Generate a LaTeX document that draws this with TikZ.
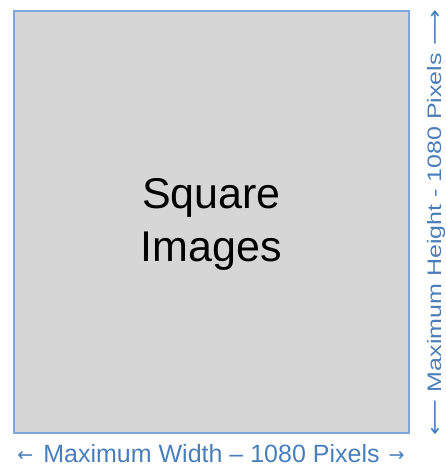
\documentclass[tikz,border=0pt]{standalone}
\usepackage{fontspec}
\setmainfont{Liberation Sans}
\newfontfamily\arrowfont{DejaVu Sans}
\definecolor{labelblue}{HTML}{4A7EBB}
\definecolor{frameblue}{HTML}{7FA7DA}
\definecolor{imagegray}{HTML}{D6D6D6}
\begin{document}
\begin{tikzpicture}[x=1pt, y=-1pt,
    dim/.style={text=labelblue, font=\fontsize{25}{30}\selectfont, inner sep=0pt}]
  \useasboundingbox (0,0) rectangle (445,466);
  % Square image area
  \filldraw[fill=imagegray, draw=frameblue, line width=1.2pt] (14,11) rectangle (409,433);
  \node[align=center, font=\fontsize{43}{53}\selectfont] (title) at (211.5,224) {Square\\Images};
  % Width label along the bottom
  \node[dim, anchor=base] (width) at (211,462)
    {{\arrowfont\fontsize{19}{19}\selectfont\raisebox{1pt}{←}}\hspace{10pt}Maximum Width – 1080 Pixels\hspace{9pt}{\arrowfont\fontsize{19}{19}\selectfont\raisebox{1pt}{→}}};
  % Height label up the right side
  \node[dim, anchor=base, rotate=90, yscale=0.78] (height) at (441,222.5)
    {{\arrowfont ⟵}\hspace{8pt}Maximum Height - 1080 Pixels\hspace{8pt}{\arrowfont ⟶}};
\end{tikzpicture}
\end{document}
